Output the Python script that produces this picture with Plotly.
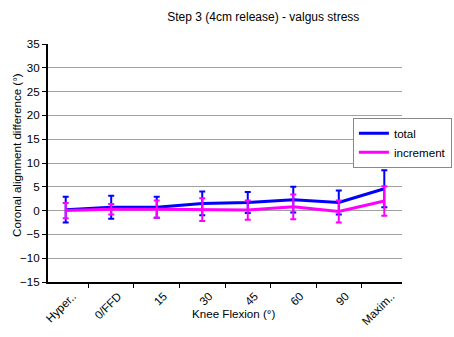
import plotly.graph_objects as go

categories = ["Hyper..", "0/FFD", "15", "30", "45", "60", "90", "Maxim.."]
total = [0.2, 0.7, 0.7, 1.5, 1.7, 2.3, 1.7, 4.6]
total_err = [2.7, 2.4, 2.2, 2.5, 2.2, 2.7, 2.5, 3.9]
increment = [0.0, 0.3, 0.3, 0.2, 0.1, 0.8, -0.2, 2.0]
increment_err = [1.6, 1.1, 1.8, 2.4, 2.0, 2.6, 2.3, 3.1]

FONT = "Liberation Sans, Arial, sans-serif"
FS = 11.6

fig = go.Figure()
fig.add_trace(go.Scatter(
    x=categories, y=total, name="total", mode="lines",
    line=dict(color="#0000FF", width=3),
    error_y=dict(type="data", array=total_err, visible=True,
                 color="#0000FF", thickness=2, width=3),
))
fig.add_trace(go.Scatter(
    x=categories, y=increment, name="increment", mode="lines",
    line=dict(color="#FF00FF", width=3),
    error_y=dict(type="data", array=increment_err, visible=True,
                 color="#FF00FF", thickness=2, width=3),
))

fig.update_layout(
    width=454, height=337,
    margin=dict(l=48, r=52, t=44, b=55, autoexpand=False),
    paper_bgcolor="white", plot_bgcolor="white",
    font=dict(family=FONT, size=FS, color="black"),
    title=dict(text="Step 3 (4cm release) - valgus stress",
               x=0.58, xanchor="center", y=0.949, yanchor="middle",
               font=dict(size=12, family=FONT, color="black")),
    showlegend=True,
    legend=dict(x=1.141, y=0.69, xanchor="right", yanchor="top",
                bordercolor="#888888", borderwidth=1, bgcolor="white",
                itemwidth=30,
                font=dict(size=FS, family=FONT)),
    xaxis=dict(
        type="category", tickangle=-45, tickson="boundaries",
        ticks="outside", ticklen=4, tickcolor="black",
        showline=True, linecolor="black", linewidth=2,
        showgrid=False, zeroline=False, automargin=False,
        ticklabelshift=7, ticklabelstandoff=1,
        tickfont=dict(size=FS, family=FONT),
    ),
    yaxis=dict(
        range=[-15, 35], dtick=5, tick0=0,
        ticks="outside", ticklen=4, tickcolor="black",
        showline=True, linecolor="black", linewidth=2,
        showgrid=True, gridcolor="#a0a0a0", gridwidth=1,
        zeroline=False, automargin=False,
        tickfont=dict(size=FS, family=FONT),
    ),
    annotations=[
        dict(text="Knee Flexion (°)", xref="paper", yref="paper",
             x=0.523, y=-0.134, xanchor="center", yanchor="middle",
             showarrow=False, font=dict(size=FS, family=FONT)),
        dict(text="Coronal alignment difference (°)", xref="paper", yref="paper",
             x=-0.0876, y=0.534, xanchor="center", yanchor="middle",
             textangle=-90, showarrow=False, font=dict(size=FS, family=FONT)),
    ],
)

fig.write_html("out.html")
